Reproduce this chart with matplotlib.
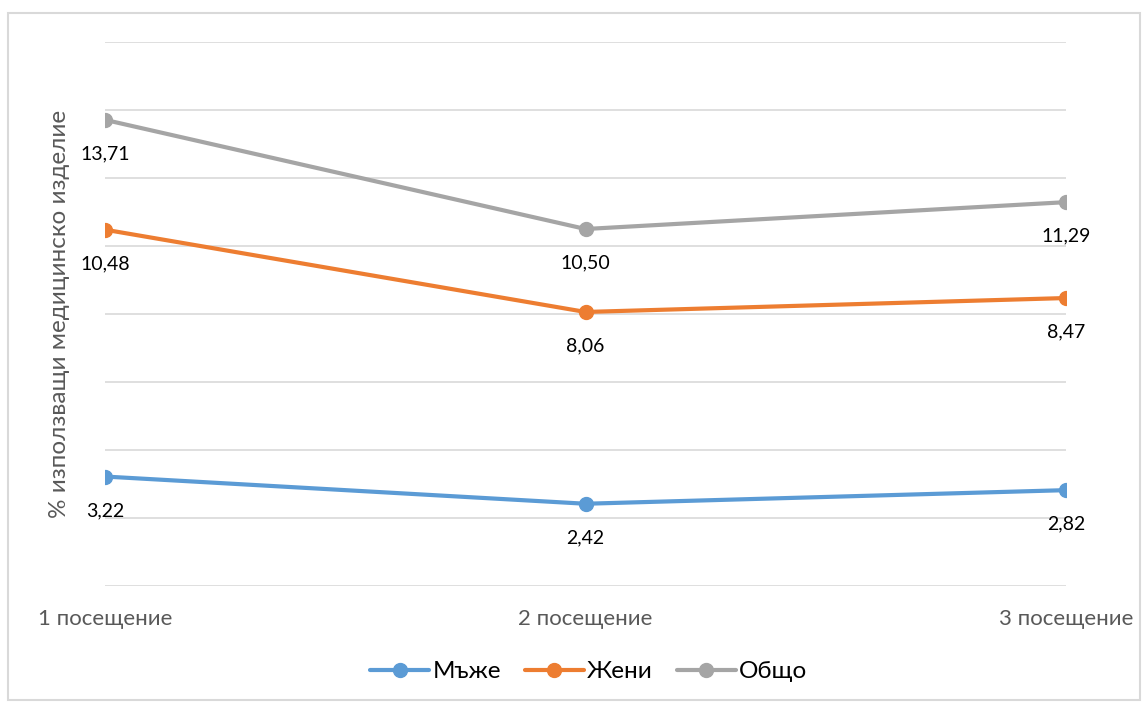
import matplotlib
matplotlib.use('Agg')
import matplotlib.pyplot as plt
from matplotlib.patches import Rectangle

plt.rcParams['font.family'] = ['Lato', 'Open Sans', 'DejaVu Sans']

visits = ["1 посещение", "2 посещение", "3 посещение"]
men = [3.22, 2.42, 2.82]
women = [10.48, 8.06, 8.47]
total = [13.71, 10.50, 11.29]

series = [("Мъже", men, "#5B9BD5"),
          ("Жени", women, "#ED7D31"),
          ("Общо", total, "#A5A5A5")]

fig = plt.figure(figsize=(11.48, 7.07), dpi=100)
ax = fig.add_axes([0.0915, 0.1711, 0.8371, 0.7695])

x = list(range(len(visits)))
for name, vals, col in series:
    ax.plot(x, vals, color=col, lw=3, marker='o', ms=10, label=name,
            solid_capstyle='round', zorder=3)
    for xi, v in zip(x, vals):
        ax.annotate(f"{v:.2f}".replace('.', ','), (xi, v), xytext=(0, -34),
                    textcoords='offset pixels', ha='center', va='center',
                    fontsize=14, color='black')

ax.set_xlim(0, 2)
ax.set_ylim(0, 16)
ax.set_yticks(range(0, 17, 2))
ax.yaxis.grid(True, color='#D9D9D9', lw=1.2)
ax.set_axisbelow(True)
ax.tick_params(axis='y', left=False, labelleft=False)
ax.set_xticks(x)
ax.set_xticklabels(visits, fontsize=16, color='#595959')
ax.tick_params(axis='x', bottom=False, pad=13)
for s in ax.spines.values():
    s.set_visible(False)

ax.set_ylabel("% използващи медицинско изделие", fontsize=17.5, color='#595959')
ax.yaxis.set_label_coords(-0.036, 0.5)

fig.legend(loc='center', bbox_to_anchor=(0.513, 0.05), ncol=3, frameon=False,
           fontsize=17.5, handlelength=2.4, columnspacing=1.0, handletextpad=0.15)

# thin frame around the whole chart
fig.patches.append(Rectangle((8 / 1148, 7 / 707), 1132 / 1148, 687 / 707,
                             transform=fig.transFigure, fill=False,
                             edgecolor='#D9D9D9', lw=1.5))

fig.savefig("out.png", dpi=100)
